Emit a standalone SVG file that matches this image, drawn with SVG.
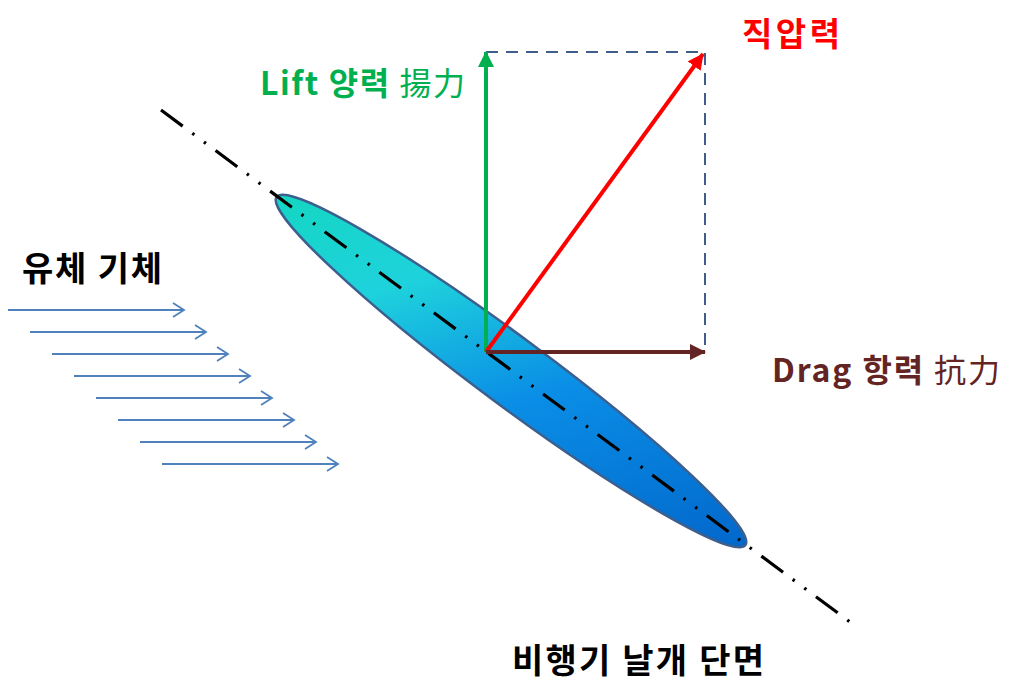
<svg xmlns="http://www.w3.org/2000/svg" width="1024" height="697" viewBox="0 0 1024 697">
<style>
.kr{font-family:"Noto Sans CJK KR","Noto Sans",sans-serif;}
.b{font-weight:bold;}
.flow{stroke:#4f81bd;stroke-width:1.8;fill:none;}
</style>
<defs>
<linearGradient id="wing" gradientUnits="userSpaceOnUse" x1="280" y1="198" x2="744" y2="544">
<stop offset="0" stop-color="#10d8b8"/>
<stop offset="0.3" stop-color="#1ed2dc"/>
<stop offset="0.55" stop-color="#0a8ee6"/>
<stop offset="1" stop-color="#005ec4"/>
</linearGradient>
<marker id="flowHead" markerWidth="14" markerHeight="16" refX="12" refY="8" orient="auto" markerUnits="userSpaceOnUse">
<path d="M1,1 L12,8 L1,15" fill="none" stroke="#4f81bd" stroke-width="1.8"/>
</marker>
<marker id="hGreen" markerWidth="16" markerHeight="20" refX="15" refY="8" orient="auto" markerUnits="userSpaceOnUse">
<path d="M0,0 L16,8 L0,16 z" fill="#00b050"/>
</marker>
<marker id="hRed" markerWidth="16" markerHeight="20" refX="15" refY="8" orient="auto" markerUnits="userSpaceOnUse">
<path d="M0,0 L16,8 L0,16 z" fill="#ff0000"/>
</marker>
<marker id="hBrown" markerWidth="16" markerHeight="20" refX="15" refY="8" orient="auto" markerUnits="userSpaceOnUse">
<path d="M0,0 L16,8 L0,16 z" fill="#632423"/>
</marker>
</defs>
<rect width="1024" height="697" fill="#ffffff"/>

<g id="wing-section">
<ellipse cx="511" cy="371" rx="292" ry="34" transform="rotate(36.6 511 371)" fill="url(#wing)" stroke="#3d5f8e" stroke-width="2.5"/>
</g>

<g id="chord-line">
<line x1="161" y1="110" x2="850" y2="622" stroke="#000" stroke-width="3.2" stroke-dasharray="27 12 2.5 12 2.5 12"/>
</g>

<g id="connectors">
<path d="M486,52 H705 V352" fill="none" stroke="#3e5d8a" stroke-width="2" stroke-dasharray="12 8"/>
<line x1="486" y1="352" x2="486" y2="52" stroke="#00b050" stroke-width="4" marker-end="url(#hGreen)"/>
<line x1="486" y1="352" x2="703" y2="54" stroke="#ff0000" stroke-width="4" marker-end="url(#hRed)"/>
<line x1="486" y1="352" x2="705" y2="352" stroke="#632423" stroke-width="4" marker-end="url(#hBrown)"/>
<g id="flow-arrows">
<line class="flow" x1="8" y1="310" x2="184" y2="310" marker-end="url(#flowHead)"/>
<line class="flow" x1="30" y1="332" x2="206" y2="332" marker-end="url(#flowHead)"/>
<line class="flow" x1="52" y1="354" x2="228" y2="354" marker-end="url(#flowHead)"/>
<line class="flow" x1="74" y1="376" x2="250" y2="376" marker-end="url(#flowHead)"/>
<line class="flow" x1="96" y1="398" x2="272" y2="398" marker-end="url(#flowHead)"/>
<line class="flow" x1="118" y1="420" x2="294" y2="420" marker-end="url(#flowHead)"/>
<line class="flow" x1="140" y1="442" x2="316" y2="442" marker-end="url(#flowHead)"/>
<line class="flow" x1="162" y1="464" x2="338" y2="464" marker-end="url(#flowHead)"/>
</g>
</g>

<g id="label-lift">
<text x="260" y="95" class="kr" font-size="32" fill="#00b050" textLength="205" lengthAdjust="spacing"><tspan class="b">Lift 양력</tspan> 揚力</text>
</g>
<g id="label-normal">
<text x="742" y="46" class="kr b" font-size="33" fill="#ff0000" textLength="98" lengthAdjust="spacing">직압력</text>
</g>
<g id="label-drag">
<text x="772" y="382" class="kr" font-size="32" fill="#632423" textLength="228" lengthAdjust="spacing"><tspan class="b">Drag 항력</tspan> 抗力</text>
</g>
<g id="label-fluid">
<text x="22" y="281" class="kr b" font-size="34" fill="#000" textLength="140" lengthAdjust="spacing">유체 기체</text>
</g>
<g id="label-wing">
<text x="512" y="673" class="kr b" font-size="34" fill="#000" textLength="252" lengthAdjust="spacing">비행기 날개 단면</text>
</g>
</svg>
